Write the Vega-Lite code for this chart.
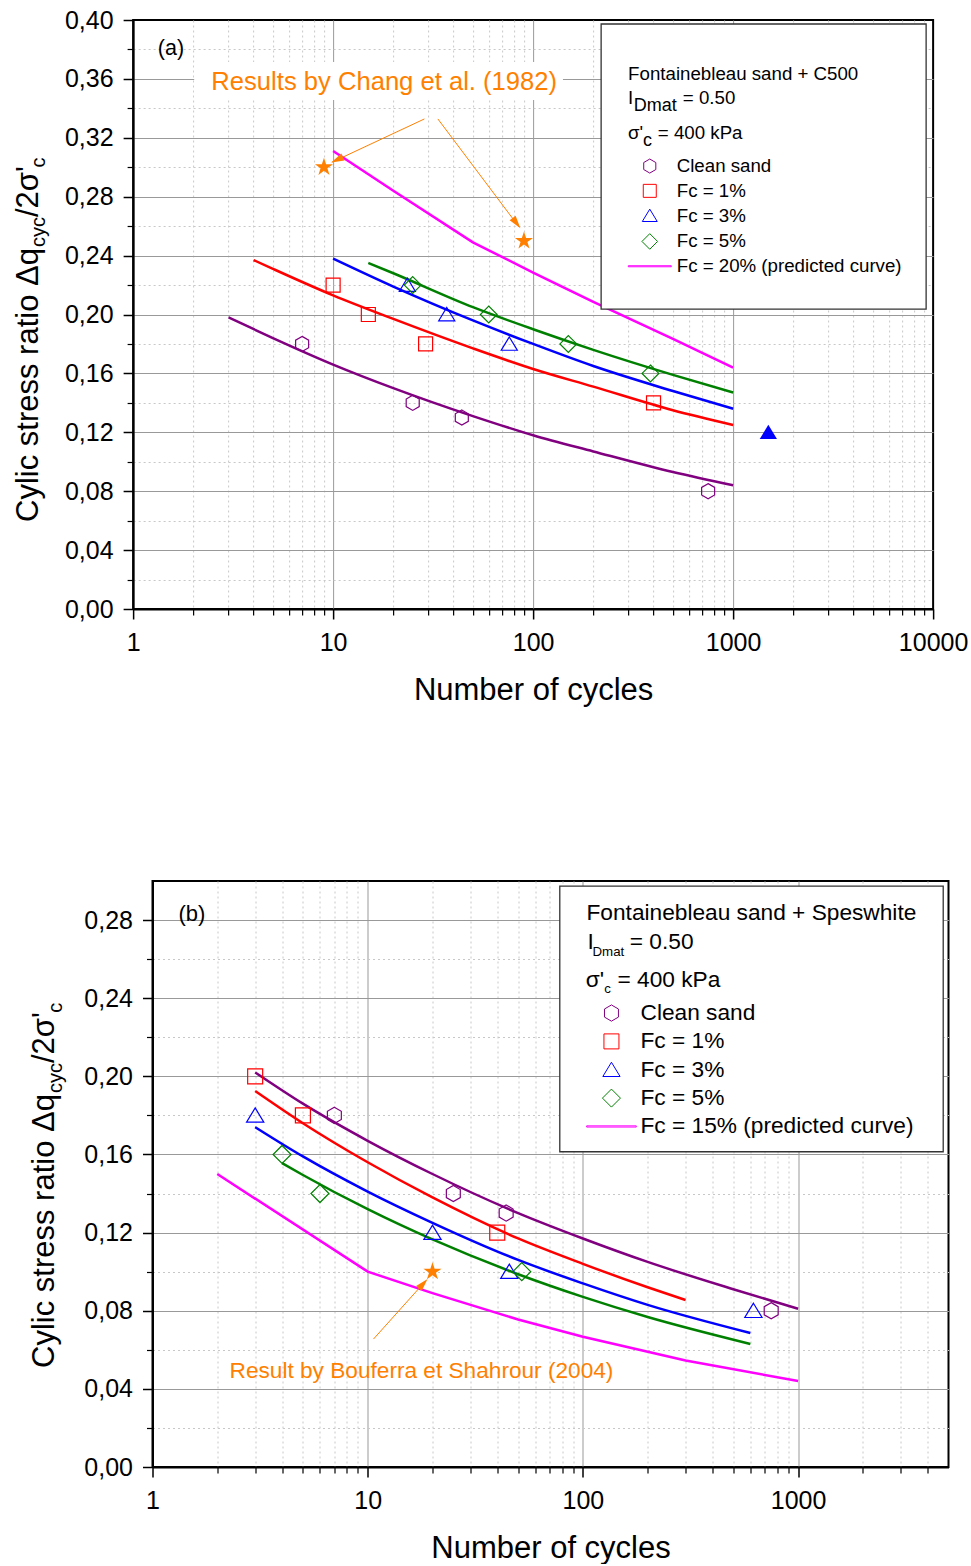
{
  "$schema": "https://vega.github.io/schema/vega-lite/v6.json",
  "background": "white",
  "padding": {"left": 12, "top": 7, "right": 0, "bottom": 0},
  "center": true,
  "spacing": 174,
  "config": {
    "font": "Liberation Sans",
    "view": {"stroke": "black", "strokeWidth": 2},
    "axis": {"labelFont": "Liberation Sans", "labelFontSize": 25, "labelColor": "black", "titleFont": "Liberation Sans", "titleFontSize": 31, "titleFontWeight": "normal", "titleColor": "black", "tickColor": "black", "domainColor": "black", "labelFlush": false, "labelOverlap": false, "labelBound": false},
    "legend": {"labelFont": "Liberation Sans", "titleFont": "Liberation Sans", "labelColor": "black", "titleColor": "black", "titleFontWeight": "normal", "strokeColor": "transparent", "fillColor": "transparent", "labelLimit": 500, "titleLimit": 500, "symbolStrokeWidth": 1}
  },
  "resolve": {
    "scale": {"x": "independent", "y": "independent", "stroke": "independent", "shape": "independent", "color": "independent"},
    "legend": {"stroke": "independent", "shape": "independent", "color": "independent"}
  },
  "datasets": {
    "boxA": [{"N1": 2.02, "N2": 141, "v1": 0.3457, "v2": 0.3715}],
    "legboxA": [{"N1": 218.8, "N2": 9226, "v1": 0.2037, "v2": 0.3973}],
    "curvesA": [
      {"series": "Clean sand", "N": 3, "v": 0.198}, {"series": "Clean sand", "N": 5, "v": 0.184}, {"series": "Clean sand", "N": 10, "v": 0.166}, {"series": "Clean sand", "N": 20, "v": 0.150}, {"series": "Clean sand", "N": 50, "v": 0.131}, {"series": "Clean sand", "N": 100, "v": 0.118}, {"series": "Clean sand", "N": 200, "v": 0.107}, {"series": "Clean sand", "N": 500, "v": 0.093}, {"series": "Clean sand", "N": 1000, "v": 0.084},
      {"series": "Fc = 1%", "N": 4, "v": 0.237}, {"series": "Fc = 1%", "N": 5, "v": 0.231}, {"series": "Fc = 1%", "N": 10, "v": 0.213}, {"series": "Fc = 1%", "N": 20, "v": 0.197}, {"series": "Fc = 1%", "N": 50, "v": 0.177}, {"series": "Fc = 1%", "N": 100, "v": 0.163}, {"series": "Fc = 1%", "N": 200, "v": 0.151}, {"series": "Fc = 1%", "N": 500, "v": 0.135}, {"series": "Fc = 1%", "N": 1000, "v": 0.125},
      {"series": "Fc = 3%", "N": 10, "v": 0.238}, {"series": "Fc = 3%", "N": 20, "v": 0.219}, {"series": "Fc = 3%", "N": 50, "v": 0.196}, {"series": "Fc = 3%", "N": 100, "v": 0.180}, {"series": "Fc = 3%", "N": 200, "v": 0.165}, {"series": "Fc = 3%", "N": 500, "v": 0.148}, {"series": "Fc = 3%", "N": 1000, "v": 0.136},
      {"series": "Fc = 5%", "N": 15, "v": 0.235}, {"series": "Fc = 5%", "N": 20, "v": 0.228}, {"series": "Fc = 5%", "N": 50, "v": 0.205}, {"series": "Fc = 5%", "N": 100, "v": 0.190}, {"series": "Fc = 5%", "N": 200, "v": 0.176}, {"series": "Fc = 5%", "N": 500, "v": 0.159}, {"series": "Fc = 5%", "N": 1000, "v": 0.147},
      {"series": "Fc = 20% (predicted curve)", "N": 10, "v": 0.311}, {"series": "Fc = 20% (predicted curve)", "N": 20, "v": 0.284}, {"series": "Fc = 20% (predicted curve)", "N": 50, "v": 0.249}, {"series": "Fc = 20% (predicted curve)", "N": 100, "v": 0.2285}, {"series": "Fc = 20% (predicted curve)", "N": 200, "v": 0.2085}, {"series": "Fc = 20% (predicted curve)", "N": 500, "v": 0.1835}, {"series": "Fc = 20% (predicted curve)", "N": 1000, "v": 0.164}
    ],
    "ptsA": [
      {"series": "Clean sand", "N": 7, "v": 0.18}, {"series": "Clean sand", "N": 25, "v": 0.14}, {"series": "Clean sand", "N": 44, "v": 0.13}, {"series": "Clean sand", "N": 750, "v": 0.08},
      {"series": "Fc = 1%", "N": 10, "v": 0.22}, {"series": "Fc = 1%", "N": 15, "v": 0.20}, {"series": "Fc = 1%", "N": 29, "v": 0.18}, {"series": "Fc = 1%", "N": 400, "v": 0.14},
      {"series": "Fc = 3%", "N": 23.5, "v": 0.22}, {"series": "Fc = 3%", "N": 37, "v": 0.20}, {"series": "Fc = 3%", "N": 76, "v": 0.18},
      {"series": "Fc = 5%", "N": 25, "v": 0.22}, {"series": "Fc = 5%", "N": 60, "v": 0.20}, {"series": "Fc = 5%", "N": 150, "v": 0.18}, {"series": "Fc = 5%", "N": 386, "v": 0.16}
    ],
    "filledA": [{"series": "Fc = 3%", "N": 1500, "v": 0.12}],
    "starsA": [{"N": 9, "v": 0.30}, {"N": 90, "v": 0.25}],
    "arrowsA": [{"id": 1, "N": 28.6, "v": 0.3328, "N2": 9.9, "v2": 0.3035}, {"id": 2, "N": 33.4, "v": 0.3328, "N2": 85, "v2": 0.2595}],
    "headsA": [{"id": 1, "N": 10.5, "v": 0.3052}, {"id": 2, "N": 82.4, "v": 0.2622}],
    "textA": [
      {"role": "ymain", "label": "Cylic stress ratio Δq", "N": 0.335, "v": 0.0591},
      {"role": "ysub", "label": "cyc", "N": 0.363, "v": 0.2458},
      {"role": "ymain", "label": "/2σ'", "N": 0.335, "v": 0.2662},
      {"role": "ysub", "label": "c", "N": 0.363, "v": 0.2998},
      {"role": "panel", "label": "(a)", "N": 1.329, "v": 0.3762},
      {"role": "note", "label": "Results by Chang et al. (1982)", "N": 18.0, "v": 0.3525},
      {"role": "head", "label": "I", "N": 298.5, "v": 0.3430},
      {"role": "hsub", "label": "Dmat", "N": 318.8, "v": 0.3382},
      {"role": "head", "label": "= 0.50", "N": 560.4, "v": 0.3430},
      {"role": "head", "label": "σ'", "N": 298, "v": 0.3192},
      {"role": "hsub", "label": "c", "N": 354.8, "v": 0.3144},
      {"role": "head", "label": "= 400 kPa", "N": 420.3, "v": 0.3192}
    ],
    "legboxB": [{"N1": 78.1, "N2": 4725, "v1": 0.1614, "v2": 0.2974}],
    "curvesB": [
      {"series": "Clean sand", "N": 3, "v": 0.202}, {"series": "Clean sand", "N": 5, "v": 0.186}, {"series": "Clean sand", "N": 10, "v": 0.167}, {"series": "Clean sand", "N": 20, "v": 0.150}, {"series": "Clean sand", "N": 50, "v": 0.130}, {"series": "Clean sand", "N": 100, "v": 0.117}, {"series": "Clean sand", "N": 200, "v": 0.105}, {"series": "Clean sand", "N": 500, "v": 0.091}, {"series": "Clean sand", "N": 1000, "v": 0.081},
      {"series": "Fc = 1%", "N": 3, "v": 0.1925}, {"series": "Fc = 1%", "N": 5, "v": 0.176}, {"series": "Fc = 1%", "N": 10, "v": 0.156}, {"series": "Fc = 1%", "N": 20, "v": 0.138}, {"series": "Fc = 1%", "N": 50, "v": 0.117}, {"series": "Fc = 1%", "N": 100, "v": 0.104}, {"series": "Fc = 1%", "N": 200, "v": 0.092}, {"series": "Fc = 1%", "N": 300, "v": 0.0855},
      {"series": "Fc = 3%", "N": 3, "v": 0.174}, {"series": "Fc = 3%", "N": 5, "v": 0.159}, {"series": "Fc = 3%", "N": 10, "v": 0.141}, {"series": "Fc = 3%", "N": 20, "v": 0.125}, {"series": "Fc = 3%", "N": 50, "v": 0.106}, {"series": "Fc = 3%", "N": 100, "v": 0.094}, {"series": "Fc = 3%", "N": 200, "v": 0.083}, {"series": "Fc = 3%", "N": 600, "v": 0.0686},
      {"series": "Fc = 5%", "N": 4, "v": 0.1556}, {"series": "Fc = 5%", "N": 5, "v": 0.1495}, {"series": "Fc = 5%", "N": 10, "v": 0.132}, {"series": "Fc = 5%", "N": 20, "v": 0.1165}, {"series": "Fc = 5%", "N": 50, "v": 0.0987}, {"series": "Fc = 5%", "N": 100, "v": 0.0871}, {"series": "Fc = 5%", "N": 200, "v": 0.0768}, {"series": "Fc = 5%", "N": 600, "v": 0.063},
      {"series": "Fc = 15% (predicted curve)", "N": 2, "v": 0.150}, {"series": "Fc = 15% (predicted curve)", "N": 10, "v": 0.100}, {"series": "Fc = 15% (predicted curve)", "N": 20, "v": 0.089}, {"series": "Fc = 15% (predicted curve)", "N": 50, "v": 0.0755}, {"series": "Fc = 15% (predicted curve)", "N": 100, "v": 0.0667}, {"series": "Fc = 15% (predicted curve)", "N": 300, "v": 0.0545}, {"series": "Fc = 15% (predicted curve)", "N": 1000, "v": 0.044}
    ],
    "ptsB": [
      {"series": "Clean sand", "N": 7, "v": 0.18}, {"series": "Clean sand", "N": 25, "v": 0.14}, {"series": "Clean sand", "N": 44, "v": 0.13}, {"series": "Clean sand", "N": 750, "v": 0.08},
      {"series": "Fc = 1%", "N": 3, "v": 0.20}, {"series": "Fc = 1%", "N": 5, "v": 0.18}, {"series": "Fc = 1%", "N": 40, "v": 0.12},
      {"series": "Fc = 3%", "N": 3, "v": 0.18}, {"series": "Fc = 3%", "N": 20, "v": 0.12}, {"series": "Fc = 3%", "N": 45.5, "v": 0.10}, {"series": "Fc = 3%", "N": 620, "v": 0.08},
      {"series": "Fc = 5%", "N": 4, "v": 0.16}, {"series": "Fc = 5%", "N": 6, "v": 0.14}, {"series": "Fc = 5%", "N": 52, "v": 0.10}
    ],
    "starsB": [{"N": 20, "v": 0.10}],
    "arrowsB": [{"N": 10.64, "v": 0.0655, "N2": 18.5, "v2": 0.095}],
    "headsB": [{"N": 18.07, "v": 0.0937}],
    "textB": [
      {"role": "ymain", "label": "Cylic stress ratio Δq", "N": 0.3504, "v": 0.0507},
      {"role": "ysub", "label": "cyc", "N": 0.3777, "v": 0.1915},
      {"role": "ymain", "label": "/2σ'", "N": 0.3504, "v": 0.2068},
      {"role": "ysub", "label": "c", "N": 0.3777, "v": 0.2326},
      {"role": "panel", "label": "(b)", "N": 1.32, "v": 0.2795},
      {"role": "note", "label": "Result by Bouferra et Shahrour (2004)", "N": 17.78, "v": 0.0456},
      {"role": "head", "label": "I", "N": 105.0, "v": 0.2652},
      {"role": "hsub", "label": "Dmat", "N": 110.8, "v": 0.2616},
      {"role": "head", "label": "= 0.50", "N": 165.2, "v": 0.2652},
      {"role": "head", "label": "σ'", "N": 103.2, "v": 0.2459},
      {"role": "hsub", "label": "c", "N": 125.6, "v": 0.2425},
      {"role": "head", "label": "= 400 kPa", "N": 144.8, "v": 0.2459}
    ]
  },
  "vconcat": [
    {
      "width": 800,
      "height": 589,
      "resolve": {"axis": {"x": "independent", "y": "independent"}},
      "layer": [
        {
          "data": {"name": "boxA"},
          "mark": {"type": "rect", "fill": "white"},
          "encoding": {
            "x": {"field": "N1", "type": "quantitative", "scale": {"type": "log", "domain": [1, 10000], "nice": false},
                  "axis": {"orient": "bottom", "values": [2,3,4,5,6,7,8,9,20,30,40,50,60,70,80,90,200,300,400,500,600,700,800,900,2000,3000,4000,5000,6000,7000,8000,9000], "grid": true, "gridColor": "#c8c8c8", "gridDash": [2,3], "gridWidth": 1, "labels": false, "domain": false, "ticks": true, "tickSize": 6, "tickWidth": 1.2, "title": null}},
            "x2": {"field": "N2"},
            "y": {"field": "v1", "type": "quantitative", "scale": {"domain": [0, 0.4], "nice": false, "zero": false},
                  "axis": {"orient": "left", "values": [0.02,0.06,0.10,0.14,0.18,0.22,0.26,0.30,0.34,0.38], "grid": true, "gridColor": "#c8c8c8", "gridDash": [2,3], "gridWidth": 1, "labels": false, "domain": false, "ticks": true, "tickSize": 6, "tickWidth": 1.2, "title": null}},
            "y2": {"field": "v2"}
          }
        },
        {
          "data": {"name": "curvesA"},
          "transform": [{"filter": "datum.series !== 'Fc = 20% (predicted curve)'"}],
          "mark": {"type": "line", "strokeWidth": 2.5, "interpolate": "monotone"},
          "encoding": {
            "x": {"field": "N", "type": "quantitative", "axis": {"orient": "bottom", "values": [10, 100, 1000], "grid": true, "gridColor": "#999999", "gridWidth": 1, "labels": false, "ticks": false, "domain": false, "title": null}},
            "y": {"field": "v", "type": "quantitative", "axis": {"orient": "left", "values": [0.04,0.08,0.12,0.16,0.20,0.24,0.28,0.32,0.36], "grid": true, "gridColor": "#999999", "gridWidth": 1, "labels": false, "ticks": false, "domain": false, "title": null}},
            "color": {"field": "series", "type": "nominal", "scale": {"domain": ["Fc = 20% (predicted curve)", "Fc = 5%", "Fc = 3%", "Fc = 1%", "Clean sand"], "range": ["#FF00FF", "#008000", "#0000FF", "#FF0000", "#800080"]}, "legend": null}
          }
        },
        {
          "data": {"name": "curvesA"},
          "transform": [{"filter": "datum.series === 'Fc = 20% (predicted curve)'"}],
          "mark": {"type": "line", "strokeWidth": 2.5, "interpolate": "linear"},
          "encoding": {
            "x": {"field": "N", "type": "quantitative", "axis": null},
            "y": {"field": "v", "type": "quantitative", "axis": null},
            "color": {"field": "series", "type": "nominal", "legend": null}
          }
        },
        {
          "data": {"name": "legboxA"},
          "mark": {"type": "rect", "fill": "white", "stroke": "#333333", "strokeWidth": 1.3},
          "encoding": {"x": {"field": "N1", "type": "quantitative", "axis": null}, "x2": {"field": "N2"}, "y": {"field": "v1", "type": "quantitative", "axis": null}, "y2": {"field": "v2"}}
        },
        {
          "data": {"name": "ptsA"},
          "mark": {"type": "point", "filled": false, "size": 196, "strokeWidth": 1.2, "opacity": 1},
          "encoding": {
            "x": {"field": "N", "type": "quantitative", "axis": {"orient": "bottom", "values": [1, 10, 100, 1000, 10000], "format": "d", "grid": false, "tickSize": 10, "tickWidth": 1.5, "domainWidth": 2, "labelPadding": 11, "title": "Number of cycles", "titlePadding": 20}},
            "y": {"field": "v", "type": "quantitative", "axis": {"orient": "left", "values": [0,0.04,0.08,0.12,0.16,0.20,0.24,0.28,0.32,0.36,0.40], "labelExpr": "replace(format(datum.value, '.2f'), '.', ',')", "grid": false, "tickSize": 10, "tickWidth": 1.5, "domainWidth": 2, "labelPadding": 10, "title": null}},
            "stroke": {"field": "series", "type": "nominal", "scale": {"domain": ["Clean sand", "Fc = 1%", "Fc = 3%", "Fc = 5%", "Fc = 20% (predicted curve)"], "range": ["#800080", "#FF0000", "#0000FF", "#008000", "#FF00FF"]},
              "legend": {"orient": "none", "legendX": 468, "legendY": 4, "title": "Fontainebleau sand + C500", "titleFontSize": 18.7, "titleBaseline": "line-top", "titleLineHeight": 47, "titlePadding": 87, "labelFontSize": 18.7, "symbolSize": 169, "symbolOffset": 12.3, "labelOffset": 17.6, "rowPadding": 4.8, "padding": 27}},
            "shape": {"field": "series", "type": "nominal", "scale": {"domain": ["Clean sand", "Fc = 1%", "Fc = 3%", "Fc = 5%", "Fc = 20% (predicted curve)"], "range": ["M0,-1.08L0.93,-0.54L0.93,0.54L0,1.08L-0.93,0.54L-0.93,-0.54Z", "square", "M0,-1L1.15,0.9L-1.15,0.9Z", "M0,-1.2L1.2,0L0,1.2L-1.2,0Z", "M-3.31,-0.08L3.31,-0.08L3.31,0.08L-3.31,0.08Z"]},
              "legend": {"orient": "none", "legendX": 468, "legendY": 4, "title": "Fontainebleau sand + C500", "titleFontSize": 18.7, "titleBaseline": "line-top", "titleLineHeight": 47, "titlePadding": 87, "labelFontSize": 18.7, "symbolSize": 169, "symbolOffset": 12.3, "labelOffset": 17.6, "rowPadding": 4.8, "padding": 27}}
          }
        },
        {
          "data": {"name": "filledA"},
          "mark": {"type": "point", "filled": true, "shape": "M0,-1L1.15,0.9L-1.15,0.9Z", "size": 225, "color": "#0000FF", "opacity": 1},
          "encoding": {"x": {"field": "N", "type": "quantitative", "axis": null}, "y": {"field": "v", "type": "quantitative", "axis": null}}
        },
        {
          "data": {"name": "starsA"},
          "mark": {"type": "point", "filled": true, "shape": "M0,-1L0.2234,-0.3074L0.9511,-0.309L0.3614,0.1174L0.5878,0.809L0,0.38L-0.5878,0.809L-0.3614,0.1174L-0.9511,-0.309L-0.2234,-0.3074Z", "size": 360, "color": "#FF8000", "opacity": 1},
          "encoding": {"x": {"field": "N", "type": "quantitative", "axis": null}, "y": {"field": "v", "type": "quantitative", "axis": null}}
        },
        {
          "data": {"name": "arrowsA"},
          "mark": {"type": "rule", "color": "#FF8000", "strokeWidth": 1},
          "encoding": {"x": {"field": "N", "type": "quantitative", "axis": null}, "x2": {"field": "N2"}, "y": {"field": "v", "type": "quantitative", "axis": null}, "y2": {"field": "v2"}}
        },
        {
          "data": {"name": "headsA"},
          "transform": [{"filter": "datum.id === 1"}],
          "mark": {"type": "point", "filled": true, "shape": "M0,-1L0.55,0.9L-0.55,0.9Z", "size": 185, "angle": 245, "color": "#FF8000", "opacity": 1},
          "encoding": {"x": {"field": "N", "type": "quantitative", "axis": null}, "y": {"field": "v", "type": "quantitative", "axis": null}}
        },
        {
          "data": {"name": "headsA"},
          "transform": [{"filter": "datum.id === 2"}],
          "mark": {"type": "point", "filled": true, "shape": "M0,-1L0.55,0.9L-0.55,0.9Z", "size": 185, "angle": 143, "color": "#FF8000", "opacity": 1},
          "encoding": {"x": {"field": "N", "type": "quantitative", "axis": null}, "y": {"field": "v", "type": "quantitative", "axis": null}}
        },
        {
          "data": {"name": "textA"},
          "transform": [{"filter": "datum.role === 'ymain'"}],
          "mark": {"type": "text", "angle": 270, "align": "left", "baseline": "alphabetic", "fontSize": 31, "color": "black", "clip": false},
          "encoding": {"x": {"field": "N", "type": "quantitative", "axis": null}, "y": {"field": "v", "type": "quantitative", "axis": null}, "text": {"field": "label"}}
        },
        {
          "data": {"name": "textA"},
          "transform": [{"filter": "datum.role === 'ysub'"}],
          "mark": {"type": "text", "angle": 270, "align": "left", "baseline": "alphabetic", "fontSize": 20, "color": "black", "clip": false},
          "encoding": {"x": {"field": "N", "type": "quantitative", "axis": null}, "y": {"field": "v", "type": "quantitative", "axis": null}, "text": {"field": "label"}}
        },
        {
          "data": {"name": "textA"},
          "transform": [{"filter": "datum.role === 'panel'"}],
          "mark": {"type": "text", "align": "left", "baseline": "alphabetic", "fontSize": 21.5, "color": "black"},
          "encoding": {"x": {"field": "N", "type": "quantitative", "axis": null}, "y": {"field": "v", "type": "quantitative", "axis": null}, "text": {"field": "label"}}
        },
        {
          "data": {"name": "textA"},
          "transform": [{"filter": "datum.role === 'note'"}],
          "mark": {"type": "text", "align": "center", "baseline": "alphabetic", "fontSize": 25.6, "color": "#FF8000"},
          "encoding": {"x": {"field": "N", "type": "quantitative", "axis": null}, "y": {"field": "v", "type": "quantitative", "axis": null}, "text": {"field": "label"}}
        },
        {
          "data": {"name": "textA"},
          "transform": [{"filter": "datum.role === 'head'"}],
          "mark": {"type": "text", "align": "left", "baseline": "alphabetic", "fontSize": 18.7, "color": "black"},
          "encoding": {"x": {"field": "N", "type": "quantitative", "axis": null}, "y": {"field": "v", "type": "quantitative", "axis": null}, "text": {"field": "label"}}
        },
        {
          "data": {"name": "textA"},
          "transform": [{"filter": "datum.role === 'hsub'"}],
          "mark": {"type": "text", "align": "left", "baseline": "alphabetic", "fontSize": 18, "color": "black"},
          "encoding": {"x": {"field": "N", "type": "quantitative", "axis": null}, "y": {"field": "v", "type": "quantitative", "axis": null}, "text": {"field": "label"}}
        }
      ]
    },
    {
      "width": 796,
      "height": 586,
      "resolve": {"axis": {"x": "independent", "y": "independent"}},
      "layer": [
        {
          "data": {"name": "curvesB"},
          "transform": [{"filter": "datum.series !== 'Fc = 15% (predicted curve)'"}],
          "mark": {"type": "line", "strokeWidth": 2.5, "interpolate": "monotone"},
          "encoding": {
            "x": {"field": "N", "type": "quantitative", "scale": {"type": "log", "domain": [1, 5000], "nice": false},
                  "axis": {"orient": "bottom", "values": [2,3,4,5,6,7,8,9,20,30,40,50,60,70,80,90,200,300,400,500,600,700,800,900,2000,3000,4000], "grid": true, "gridColor": "#c8c8c8", "gridDash": [2,3], "gridWidth": 1, "labels": false, "domain": false, "ticks": true, "tickSize": 6, "tickWidth": 1.2, "title": null}},
            "y": {"field": "v", "type": "quantitative", "scale": {"domain": [0, 0.3], "nice": false, "zero": false},
                  "axis": {"orient": "left", "values": [0.02,0.06,0.10,0.14,0.18,0.22,0.26], "grid": true, "gridColor": "#c8c8c8", "gridDash": [2,3], "gridWidth": 1, "labels": false, "domain": false, "ticks": true, "tickSize": 6, "tickWidth": 1.2, "title": null}},
            "color": {"field": "series", "type": "nominal", "scale": {"domain": ["Fc = 15% (predicted curve)", "Fc = 5%", "Fc = 3%", "Fc = 1%", "Clean sand"], "range": ["#FF00FF", "#008000", "#0000FF", "#FF0000", "#800080"]}, "legend": null}
          }
        },
        {
          "data": {"name": "curvesB"},
          "transform": [{"filter": "datum.series === 'Fc = 15% (predicted curve)'"}],
          "mark": {"type": "line", "strokeWidth": 2.5, "interpolate": "linear"},
          "encoding": {
            "x": {"field": "N", "type": "quantitative", "axis": null},
            "y": {"field": "v", "type": "quantitative", "axis": null},
            "color": {"field": "series", "type": "nominal", "legend": null}
          }
        },
        {
          "data": {"name": "legboxB"},
          "mark": {"type": "rect", "fill": "white", "stroke": "#333333", "strokeWidth": 1.3},
          "encoding": {"x": {"field": "N1", "type": "quantitative", "axis": null}, "x2": {"field": "N2"}, "y": {"field": "v1", "type": "quantitative", "axis": null}, "y2": {"field": "v2"}}
        },
        {
          "data": {"name": "starsB"},
          "mark": {"type": "point", "filled": true, "shape": "M0,-1L0.2234,-0.3074L0.9511,-0.309L0.3614,0.1174L0.5878,0.809L0,0.38L-0.5878,0.809L-0.3614,0.1174L-0.9511,-0.309L-0.2234,-0.3074Z", "size": 360, "color": "#FF8000", "opacity": 1},
          "encoding": {
            "x": {"field": "N", "type": "quantitative", "axis": {"orient": "bottom", "values": [10, 100, 1000], "grid": true, "gridColor": "#999999", "gridWidth": 1, "labels": false, "ticks": false, "domain": false, "title": null}},
            "y": {"field": "v", "type": "quantitative", "axis": {"orient": "left", "values": [0.04,0.08,0.12,0.16,0.20,0.24,0.28], "grid": true, "gridColor": "#999999", "gridWidth": 1, "labels": false, "ticks": false, "domain": false, "title": null}}
          }
        },
        {
          "data": {"name": "ptsB"},
          "mark": {"type": "point", "filled": false, "size": 225, "strokeWidth": 1.2, "opacity": 1},
          "encoding": {
            "x": {"field": "N", "type": "quantitative", "axis": {"orient": "bottom", "values": [1, 10, 100, 1000], "format": "d", "grid": false, "tickSize": 10, "tickWidth": 1.5, "domainWidth": 2, "labelPadding": 11, "title": "Number of cycles", "titlePadding": 20}},
            "y": {"field": "v", "type": "quantitative", "axis": {"orient": "left", "values": [0,0.04,0.08,0.12,0.16,0.20,0.24,0.28], "labelExpr": "replace(format(datum.value, '.2f'), '.', ',')", "grid": false, "tickSize": 10, "tickWidth": 1.5, "domainWidth": 2, "labelPadding": 10, "title": null}},
            "stroke": {"field": "series", "type": "nominal", "scale": {"domain": ["Clean sand", "Fc = 1%", "Fc = 3%", "Fc = 5%", "Fc = 15% (predicted curve)"], "range": ["#800080", "#FF0000", "#0000FF", "#008000", "#FF00FF"]},
              "legend": {"orient": "none", "legendX": 407, "legendY": 5, "title": "Fontainebleau sand + Speswhite", "titleFontSize": 22.7, "titleBaseline": "middle", "titlePadding": 66, "labelFontSize": 22.7, "symbolSize": 225, "symbolOffset": 13.6, "labelOffset": 17.7, "rowPadding": 4.35, "padding": 27}},
            "shape": {"field": "series", "type": "nominal", "scale": {"domain": ["Clean sand", "Fc = 1%", "Fc = 3%", "Fc = 5%", "Fc = 15% (predicted curve)"], "range": ["M0,-1.08L0.93,-0.54L0.93,0.54L0,1.08L-0.93,0.54L-0.93,-0.54Z", "square", "M0,-1L1.15,0.9L-1.15,0.9Z", "M0,-1.2L1.2,0L0,1.2L-1.2,0Z", "M-3.31,-0.08L3.31,-0.08L3.31,0.08L-3.31,0.08Z"]},
              "legend": {"orient": "none", "legendX": 407, "legendY": 5, "title": "Fontainebleau sand + Speswhite", "titleFontSize": 22.7, "titleBaseline": "middle", "titlePadding": 66, "labelFontSize": 22.7, "symbolSize": 225, "symbolOffset": 13.6, "labelOffset": 17.7, "rowPadding": 4.35, "padding": 27}}
          }
        },
        {
          "data": {"name": "arrowsB"},
          "mark": {"type": "rule", "color": "#FF8000", "strokeWidth": 1},
          "encoding": {"x": {"field": "N", "type": "quantitative", "axis": null}, "x2": {"field": "N2"}, "y": {"field": "v", "type": "quantitative", "axis": null}, "y2": {"field": "v2"}}
        },
        {
          "data": {"name": "headsB"},
          "mark": {"type": "point", "filled": true, "shape": "M0,-1L0.55,0.9L-0.55,0.9Z", "size": 185, "angle": 42, "color": "#FF8000", "opacity": 1},
          "encoding": {"x": {"field": "N", "type": "quantitative", "axis": null}, "y": {"field": "v", "type": "quantitative", "axis": null}}
        },
        {
          "data": {"name": "textB"},
          "transform": [{"filter": "datum.role === 'ymain'"}],
          "mark": {"type": "text", "angle": 270, "align": "left", "baseline": "alphabetic", "fontSize": 31, "color": "black", "clip": false},
          "encoding": {"x": {"field": "N", "type": "quantitative", "axis": null}, "y": {"field": "v", "type": "quantitative", "axis": null}, "text": {"field": "label"}}
        },
        {
          "data": {"name": "textB"},
          "transform": [{"filter": "datum.role === 'ysub'"}],
          "mark": {"type": "text", "angle": 270, "align": "left", "baseline": "alphabetic", "fontSize": 20, "color": "black", "clip": false},
          "encoding": {"x": {"field": "N", "type": "quantitative", "axis": null}, "y": {"field": "v", "type": "quantitative", "axis": null}, "text": {"field": "label"}}
        },
        {
          "data": {"name": "textB"},
          "transform": [{"filter": "datum.role === 'panel'"}],
          "mark": {"type": "text", "align": "left", "baseline": "alphabetic", "fontSize": 22, "color": "black"},
          "encoding": {"x": {"field": "N", "type": "quantitative", "axis": null}, "y": {"field": "v", "type": "quantitative", "axis": null}, "text": {"field": "label"}}
        },
        {
          "data": {"name": "textB"},
          "transform": [{"filter": "datum.role === 'note'"}],
          "mark": {"type": "text", "align": "center", "baseline": "alphabetic", "fontSize": 22.65, "color": "#FF8000"},
          "encoding": {"x": {"field": "N", "type": "quantitative", "axis": null}, "y": {"field": "v", "type": "quantitative", "axis": null}, "text": {"field": "label"}}
        },
        {
          "data": {"name": "textB"},
          "transform": [{"filter": "datum.role === 'head'"}],
          "mark": {"type": "text", "align": "left", "baseline": "alphabetic", "fontSize": 22.7, "color": "black"},
          "encoding": {"x": {"field": "N", "type": "quantitative", "axis": null}, "y": {"field": "v", "type": "quantitative", "axis": null}, "text": {"field": "label"}}
        },
        {
          "data": {"name": "textB"},
          "transform": [{"filter": "datum.role === 'hsub'"}],
          "mark": {"type": "text", "align": "left", "baseline": "alphabetic", "fontSize": 13.3, "color": "black"},
          "encoding": {"x": {"field": "N", "type": "quantitative", "axis": null}, "y": {"field": "v", "type": "quantitative", "axis": null}, "text": {"field": "label"}}
        }
      ]
    }
  ]
}
